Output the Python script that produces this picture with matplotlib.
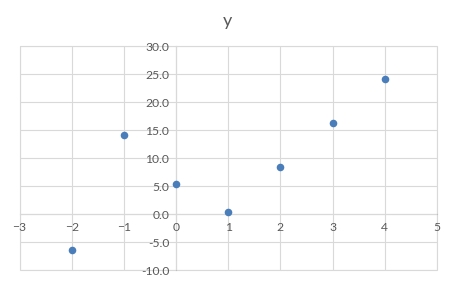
import matplotlib
matplotlib.use("Agg")
import matplotlib.pyplot as plt
from matplotlib.ticker import FormatStrFormatter, MultipleLocator

x_values = [-2, -1, 0, 1, 2, 3, 4]
y_values = [-6.5, 14.1, 5.3, 0.3, 8.4, 16.2, 24.2]
title = "y"

plt.rcParams['font.family'] = ['Lato', 'DejaVu Sans']

fig = plt.figure(figsize=(4.54, 2.81), dpi=100)
ax = fig.add_axes([0.043, 0.039, 0.9195, 0.797])

ax.scatter(x_values, y_values, s=30, color='#4a7ebb', zorder=3, linewidths=0)

ax.set_xlim(-3, 5)
ax.set_ylim(-10, 30)
ax.xaxis.set_major_locator(MultipleLocator(1))
ax.yaxis.set_major_locator(MultipleLocator(5))
ax.yaxis.set_major_formatter(FormatStrFormatter('%.1f'))

ax.grid(True, color='#d9d9d9', linewidth=0.8, zorder=0)
for s in ['top', 'right']:
    ax.spines[s].set_visible(False)
ax.spines['left'].set_position(('data', 0))
ax.spines['bottom'].set_position(('data', 0))
ax.spines['left'].set_color('#bfbfbf')
ax.spines['bottom'].set_color('#bfbfbf')
ax.spines['left'].set_zorder(1)
ax.spines['bottom'].set_zorder(1)
ax.patch.set_edgecolor('#d9d9d9')
ax.patch.set_linewidth(0.8)

ax.tick_params(axis='both', length=0, labelsize=8.7, labelcolor='#595959')
ax.tick_params(axis='x', pad=6)
ax.tick_params(axis='y', pad=5)

fig.suptitle(title, x=0.5, y=0.955, fontsize=13, color='#595959', va='top')

fig.savefig("out.png", dpi=100)
